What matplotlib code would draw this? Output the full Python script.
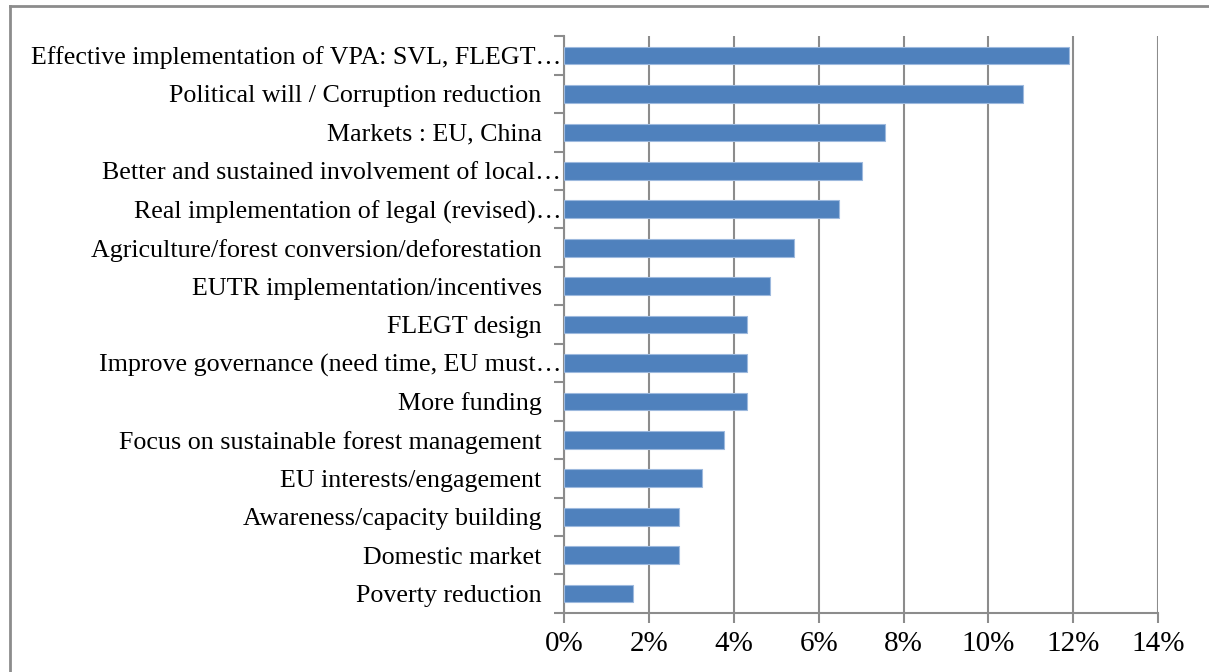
import matplotlib.pyplot as plt
from matplotlib.lines import Line2D
from matplotlib.ticker import PercentFormatter, FixedLocator

# categories (top to bottom) and shares of answers
categories = [
    "Effective implementation of VPA: SVL, FLEGT…",
    "Political will / Corruption reduction",
    "Markets : EU, China",
    "Better and sustained involvement of local…",
    "Real implementation of legal (revised)…",
    "Agriculture/forest conversion/deforestation",
    "EUTR implementation/incentives",
    "FLEGT design",
    "Improve governance (need time, EU must…",
    "More funding",
    "Focus on sustainable forest management",
    "EU interests/engagement",
    "Awareness/capacity building",
    "Domestic market",
    "Poverty reduction",
]
shares = [11.89, 10.81, 7.57, 7.03, 6.49, 5.41, 4.86, 4.32, 4.32, 4.32,
          3.78, 3.24, 2.70, 2.70, 1.62]
xticks = [0, 2, 4, 6, 8, 10, 12, 14]

plt.rcParams["font.family"] = ["Liberation Serif", "DejaVu Serif"]

fig = plt.figure(figsize=(12.09, 6.72), dpi=100)
ax = fig.add_axes([0.4665, 0.088, 0.4915, 0.858])

ypos = list(range(len(categories)))[::-1]
ax.barh(ypos, shares, height=0.46, color="#4F81BD", edgecolor="#9DB9DE", linewidth=0.8, zorder=3)

ax.set_xlim(0, 14)
ax.set_ylim(-0.5, len(categories) - 0.5)
ax.set_xticks(xticks)
ax.xaxis.set_major_formatter(PercentFormatter(decimals=0))
ax.grid(axis="x", color="#8C8C8C", linewidth=1.5, zorder=0)

# labels that are not cut off keep a trailing gap, as in the original
labels = [c if c.endswith("…") else c + "   " for c in categories]
ax.set_yticks(ypos)
ax.set_yticklabels(labels)
ax.yaxis.set_minor_locator(FixedLocator([i - 0.5 for i in range(len(categories) + 1)]))
ax.tick_params(axis="y", which="major", length=0, pad=2, labelsize=18.7)
ax.tick_params(axis="y", which="minor", length=7, width=1.5, color="#8C8C8C")
ax.tick_params(axis="x", length=7, width=1.5, color="#8C8C8C", labelsize=21, pad=6)

for s in ["top", "right"]:
    ax.spines[s].set_visible(False)
for s in ["left", "bottom"]:
    ax.spines[s].set_color("#8C8C8C")
    ax.spines[s].set_linewidth(1.5)

# outer chart border (only top and left visible)
fig.add_artist(Line2D([10 / 1209, 10 / 1209], [0, 1 - 6 / 672], transform=fig.transFigure, color="#8C8C8C", linewidth=2))
fig.add_artist(Line2D([10 / 1209, 1], [1 - 6 / 672, 1 - 6 / 672], transform=fig.transFigure, color="#8C8C8C", linewidth=2))

fig.savefig("out.png", dpi=100)
